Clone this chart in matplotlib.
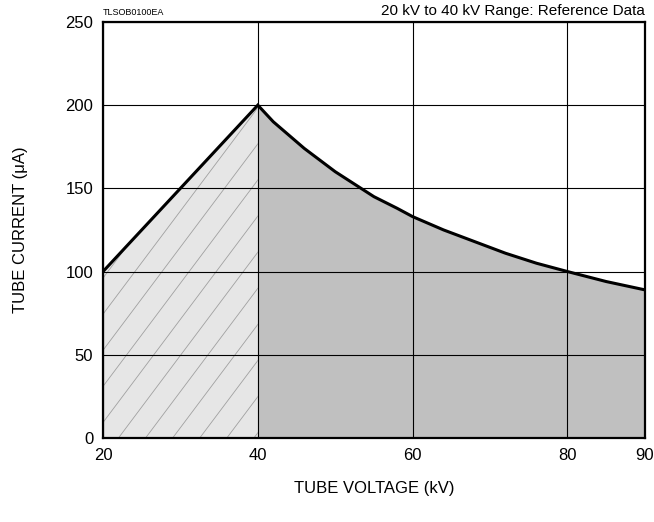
import matplotlib
matplotlib.use('Agg')
import matplotlib.pyplot as plt
import numpy as np

# values
voltage = [20, 40, 42, 44, 46, 48, 50, 52, 55, 58, 60, 64, 68, 72, 76, 80, 85, 90]
current = [100, 200, 190, 182, 174, 167, 160, 154, 145, 138, 133, 125, 118, 111, 105, 100, 94, 89]
x_ticks = [20, 40, 60, 80, 90]
y_ticks = [0, 50, 100, 150, 200, 250]

plt.rcParams['font.family'] = ['Liberation Sans', 'DejaVu Sans']

fig = plt.figure(figsize=(6.54, 5.22), dpi=100)
ax = fig.add_axes([0.1575, 0.161, 0.8285, 0.797])

v = np.array(voltage)
c = np.array(current)
low = v <= 40
high = v >= 40

light = ax.fill_between(v[low], 0, c[low], facecolor='#e6e6e6', edgecolor='none', zorder=1)
ax.fill_between(v[high], 0, c[high], facecolor='#c0c0c0', edgecolor='none', zorder=1)

# diagonal hatch in the 20-40 kV part, clipped to the light area
clip = light.get_paths()[0]
slope = 6.2
for x0 in np.arange(-20, 45, 3.5):
    hl, = ax.plot([x0, x0 + 260 / slope], [0, 260], color='#a0a0a0', lw=0.6, zorder=2)
    hl.set_clip_path(clip, ax.transData)

ax.plot(v, c, color='black', lw=2.2, zorder=4, solid_joinstyle='miter')

ax.set_xlim(20, 90)
ax.set_ylim(0, 250)
ax.set_xticks(x_ticks)
ax.set_yticks(y_ticks)
ax.grid(True, color='black', lw=0.8, zorder=3)
ax.set_axisbelow(False)
ax.tick_params(length=0, labelsize=12, pad=7)
for s in ax.spines.values():
    s.set_linewidth(1.6)
    s.set_zorder(5)

ax.set_xlabel('TUBE VOLTAGE (kV)', fontsize=12, labelpad=13)
ax.set_ylabel('TUBE CURRENT (μA)', fontsize=12, labelpad=27)

fig.text(0.1575, 0.968, 'TLSOB0100EA', fontsize=6.5, ha='left', va='bottom')
fig.text(0.986, 0.966, '20 kV to 40 kV Range: Reference Data', fontsize=11, ha='right', va='bottom')

plt.savefig('out.png', dpi=100)
plt.close()
